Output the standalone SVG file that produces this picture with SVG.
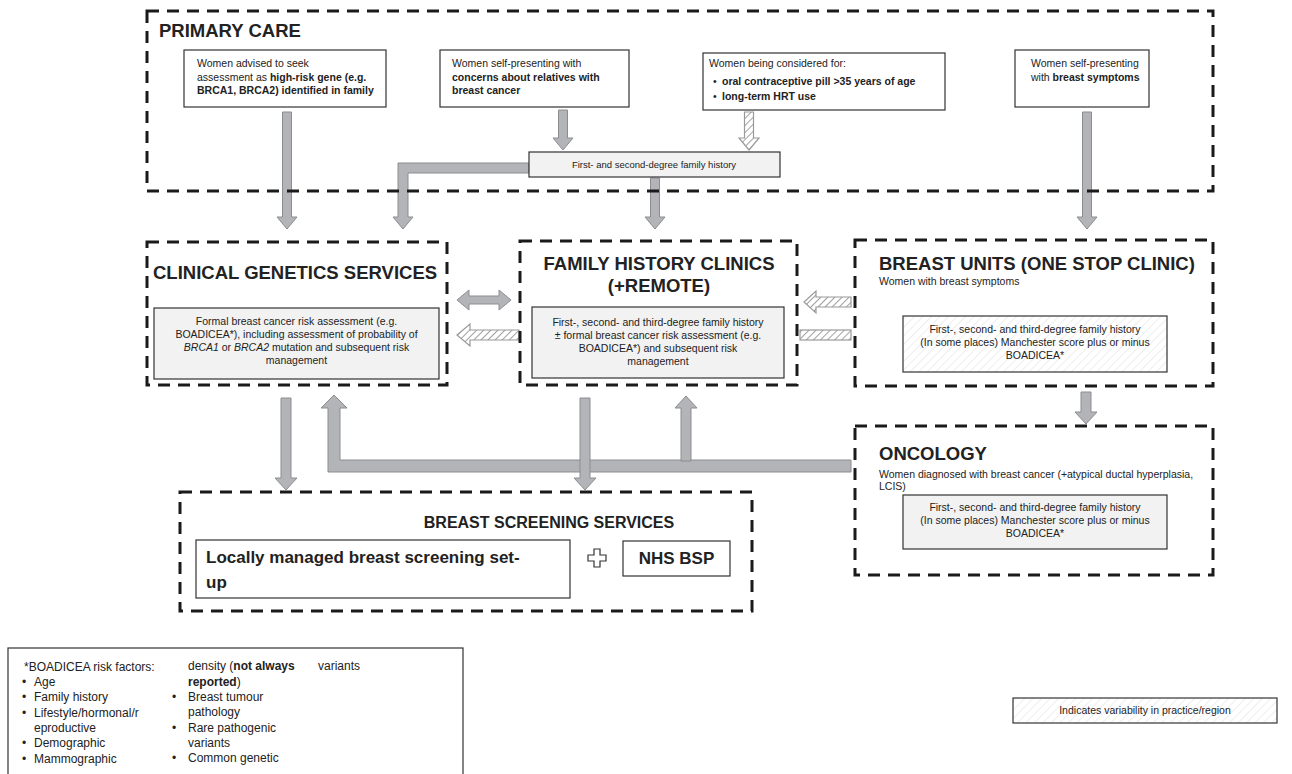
<svg xmlns="http://www.w3.org/2000/svg" width="1292" height="774" viewBox="0 0 1292 774">
<defs>
<pattern id="hatch" width="5" height="5" patternUnits="userSpaceOnUse" patternTransform="rotate(45)"><rect width="5" height="5" fill="#fff"/><line x1="0" y1="0" x2="0" y2="5" stroke="#a0a0a0" stroke-width="2"/></pattern>
<pattern id="faint" width="6" height="6" patternUnits="userSpaceOnUse" patternTransform="rotate(45)"><rect width="6" height="6" fill="#fff"/><line x1="0" y1="0" x2="0" y2="6" stroke="#e4e4e4" stroke-width="1.2"/></pattern>
<style>
.dash{fill:none;stroke:#1a1a1a;stroke-width:3;stroke-dasharray:12 8}
.box{fill:#fff;stroke:#333;stroke-width:1.2}
.gbox{fill:#f2f2f2;stroke:#333;stroke-width:1.2}
.hbox{fill:url(#faint);stroke:#333;stroke-width:1.2}
.arr{fill:#b3b4b7;stroke:#8c8d91;stroke-width:1}
.harr{fill:url(#hatch);stroke:#9a9a9a;stroke-width:1.2}
text{font-family:"Liberation Sans",Arial,sans-serif;fill:#222}
.s{font-size:10.5px}
.xs{font-size:9.5px}
.h{font-size:18.5px;font-weight:bold}
.h2{font-size:16px;font-weight:bold}
.big{font-size:17px;font-weight:bold}
.lg{font-size:12px}
.m{text-anchor:middle}
.b{font-weight:bold}
.i{font-style:italic}
</style>
</defs>

<g id="connectors">
<polygon class="arr" points="282.5,112 291.5,112 291.5,217 297,217 287,229 277,217 282.5,217"/>
<polygon class="arr" points="558.5,110 567.5,110 567.5,138 573,138 563,150 553,138 558.5,138"/>
<polygon class="harr" points="744.5,112 753.5,112 753.5,138 759,138 749,150 739,138 744.5,138"/>
<polygon class="arr" points="529,163 398,163 398,217 393,217 403,229 413,217 408,217 408,173 529,173"/>
<polygon class="arr" points="650.5,178 659.5,178 659.5,217 665,217 655,229 645,217 650.5,217"/>
<polygon class="arr" points="1082.5,112 1091.5,112 1091.5,217 1097,217 1087,229 1077,217 1082.5,217"/>
<polygon class="arr" points="469,296 499,296 499,290 511,300 499,310 499,304 469,304 469,310 457,300 469,290"/>
<polygon class="harr" points="519,330 470,330 470,324 457,335 470,346 470,340 519,340"/>
<polygon class="harr" points="851,297 816,297 816,291 804,302 816,313 816,307 851,307"/>
<rect class="harr" x="800" y="330" width="51" height="10"/>
<polygon class="arr" points="1081,392 1091,392 1091,412 1097,412 1086,424 1075,412 1081,412"/>
<polygon class="arr" points="281,398 291,398 291,478 297,478 286,490 275,478 281,478"/>
<polygon class="arr" points="851,460 851,472 328,472 328,408 321,408 334,395 347,408 340,408 340,460"/>
<polygon class="arr" points="681,461 681,408 675,408 686,396 697,408 691,408 691,461"/>
<polygon class="arr" points="580,398 590,398 590,478 596,478 585,490 574,478 580,478"/>
</g>

<g id="primary-care">
<rect class="dash" x="147" y="11" width="1066" height="180"/>
<text class="h" x="159" y="37">PRIMARY CARE</text>
</g>

<g id="pc-high-risk">
<rect class="box" x="184" y="50" width="202" height="57"/>
<text class="s" x="197" y="67">Women advised to seek</text>
<text class="s" x="197" y="81">assessment as <tspan class="b">high-risk gene (e.g.</tspan></text>
<text class="s b" x="197" y="94">BRCA1, BRCA2) identified in family</text>
</g>

<g id="pc-concerns">
<rect class="box" x="440" y="50" width="189" height="57"/>
<text class="s" x="452" y="67">Women self-presenting with</text>
<text class="s b" x="452" y="81">concerns about relatives with</text>
<text class="s b" x="452" y="94">breast cancer</text>
</g>

<g id="pc-considered">
<rect class="box" x="703" y="53" width="242" height="57"/>
<text class="s" x="709" y="67">Women being considered for:</text>
<text class="s" x="713" y="85">•</text>
<text class="s b" x="722" y="85">oral contraceptive pill &gt;35 years of age</text>
<text class="s" x="713" y="100">•</text>
<text class="s b" x="722" y="100">long-term HRT use</text>
</g>

<g id="pc-symptoms">
<rect class="box" x="1015" y="50" width="134" height="57"/>
<text class="s" x="1031" y="67">Women self-presenting</text>
<text class="s" x="1031" y="81">with <tspan class="b">breast symptoms</tspan></text>
</g>

<g id="pc-family-history">
<rect class="gbox" x="529" y="152" width="251" height="25"/>
<text class="xs m" x="654" y="168">First- and second-degree family history</text>
</g>

<g id="clinical-genetics">
<rect class="dash" x="147" y="242" width="300" height="143"/>
<text class="h" x="153" y="279">CLINICAL GENETICS SERVICES</text>
<rect class="gbox" x="154" y="308" width="285" height="71"/>
<text class="s m" x="296.5" y="325">Formal breast cancer risk assessment (e.g.</text>
<text class="s m" x="296.5" y="338">BOADICEA*), including assessment of probability of</text>
<text class="s m" x="296.5" y="351"><tspan class="i">BRCA1</tspan> or <tspan class="i">BRCA2</tspan> mutation and subsequent risk</text>
<text class="s m" x="296.5" y="364">management</text>
</g>

<g id="family-history-clinics">
<rect class="dash" x="520" y="241" width="277" height="144"/>
<text class="h m" x="659" y="270">FAMILY HISTORY CLINICS</text>
<text class="h m" x="659" y="292">(+REMOTE)</text>
<rect class="gbox" x="532" y="307" width="252" height="71"/>
<text class="s m" x="658" y="326">First-, second- and third-degree family history</text>
<text class="s m" x="658" y="339">± formal breast cancer risk assessment (e.g.</text>
<text class="s m" x="658" y="352">BOADICEA*) and subsequent risk</text>
<text class="s m" x="658" y="365">management</text>
</g>

<g id="breast-units">
<rect class="dash" x="855" y="240" width="358" height="146"/>
<text class="h" x="879" y="270">BREAST UNITS (ONE STOP CLINIC)</text>
<text class="s" x="879" y="285">Women with breast symptoms</text>
<rect class="hbox" x="903" y="316" width="264" height="56"/>
<text class="s m" x="1035" y="333">First-, second- and third-degree family history</text>
<text class="s m" x="1035" y="346">(In some places) Manchester score plus or minus</text>
<text class="s m" x="1035" y="359">BOADICEA*</text>
</g>

<g id="oncology">
<rect class="dash" x="855" y="426" width="358" height="149"/>
<text class="h" x="879" y="460">ONCOLOGY</text>
<text class="s" x="879" y="478">Women diagnosed with breast cancer (+atypical ductal hyperplasia,</text>
<text class="s" x="879" y="490">LCIS)</text>
<rect class="gbox" x="903" y="495" width="264" height="54"/>
<text class="s m" x="1035" y="511">First-, second- and third-degree family history</text>
<text class="s m" x="1035" y="524">(In some places) Manchester score plus or minus</text>
<text class="s m" x="1035" y="537">BOADICEA*</text>
</g>

<g id="breast-screening">
<rect class="dash" x="180" y="492" width="572" height="119"/>
<text class="h2 m" x="549" y="528">BREAST SCREENING SERVICES</text>
</g>

<g id="locally-managed">
<rect class="box" x="196" y="540" width="374" height="58"/>
<text class="big" x="206" y="563">Locally managed breast screening set-</text>
<text class="big" x="206" y="588">up</text>
</g>

<g id="plus">
<polygon fill="#fff" stroke="#333" stroke-width="1.2" points="594,549 600,549 600,555 606,555 606,561 600,561 600,567 594,567 594,561 588,561 588,555 594,555"/>
</g>

<g id="nhs-bsp">
<rect class="box" x="623" y="541" width="107" height="35"/>
<text class="big m" x="676.5" y="564">NHS BSP</text>
</g>

<g id="legend-boadicea">
<rect fill="#fff" stroke="#333" stroke-width="1.2" x="8" y="648" width="455" height="140"/>
<text class="lg" x="24" y="671">*BOADICEA risk factors:</text>
<text class="lg" x="22" y="686">•</text><text class="lg" x="34" y="686">Age</text>
<text class="lg" x="22" y="701">•</text><text class="lg" x="34" y="701">Family history</text>
<text class="lg" x="22" y="717">•</text><text class="lg" x="34" y="717">Lifestyle/hormonal/r</text>
<text class="lg" x="34" y="732">eproductive</text>
<text class="lg" x="22" y="747">•</text><text class="lg" x="34" y="747">Demographic</text>
<text class="lg" x="22" y="763">•</text><text class="lg" x="34" y="763">Mammographic</text>
<text class="lg" x="188" y="670">density (<tspan class="b">not always</tspan></text>
<text class="lg" x="188" y="686"><tspan class="b">reported</tspan>)</text>
<text class="lg" x="172" y="701">•</text><text class="lg" x="188" y="701">Breast tumour</text>
<text class="lg" x="188" y="716">pathology</text>
<text class="lg" x="172" y="732">•</text><text class="lg" x="188" y="732">Rare pathogenic</text>
<text class="lg" x="188" y="747">variants</text>
<text class="lg" x="172" y="762">•</text><text class="lg" x="188" y="762">Common genetic</text>
<text class="lg" x="318" y="670">variants</text>
</g>

<g id="legend-variability">
<rect class="hbox" x="1013" y="698" width="264" height="25"/>
<text class="s m" x="1145" y="714">Indicates variability in practice/region</text>
</g>
</svg>
